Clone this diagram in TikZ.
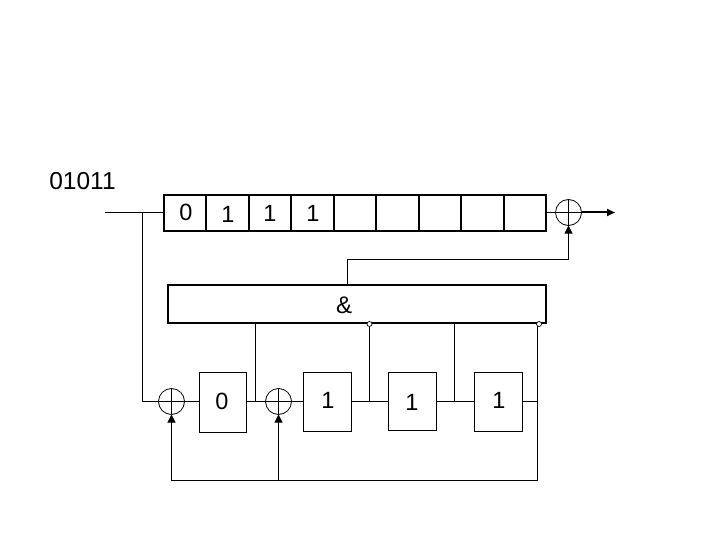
\documentclass[tikz,border=0pt]{standalone}
\usepackage{fontspec}
\setmainfont{Liberation Sans}
\usetikzlibrary{arrows.meta,calc}
\tikzset{
  wire/.style={line width=1pt,draw=black},
  head/.style={-{Triangle[length=8pt,width=8pt]}},
  cellbox/.style={draw=black,line width=2pt,rectangle,minimum width=42.5pt,minimum height=36pt,inner sep=0pt,outer sep=0pt},
  andbox/.style={draw=black,line width=2pt,rectangle,minimum width=378pt,minimum height=38pt,inner sep=0pt,outer sep=0pt},
  regbox/.style={draw=black,line width=1pt,rectangle,minimum width=48pt,minimum height=59pt,inner sep=0pt,outer sep=0pt},
  xorgate/.style={draw=black,line width=.8pt,circle,minimum size=26pt,inner sep=0pt,outer sep=0pt},
  tapdot/.style={draw=black,fill=white,line width=.7pt,circle,minimum size=5pt,inner sep=0pt,outer sep=0pt},
  digit/.style={font=\fontsize{23.5}{25}\selectfont,inner sep=0pt}
}
\begin{document}
\begin{tikzpicture}[x=1pt,y=-1pt]
\useasboundingbox (0,0) rectangle (720,540);
\fill[white] (0,0) rectangle (720,540);
% shift register
\node[cellbox] (c1) at (185,213) {};
\node[cellbox] (c2) at (227.5,213) {};
\node[cellbox] (c3) at (270,213) {};
\node[cellbox] (c4) at (312.5,213) {};
\node[cellbox] (c5) at (355,213) {};
\node[cellbox] (c6) at (397.5,213) {};
\node[cellbox] (c7) at (440,213) {};
\node[cellbox] (c8) at (482.5,213) {};
\node[cellbox] (c9) at (525,213) {};
\node[digit] (t0) at (186,212) {0};
\node[digit] (t1) at (228,214) {1};
\node[digit] (t2) at (270,213) {1};
\node[digit] (t3) at (313,213) {1};
\node[font=\fontsize{24.5}{26}\selectfont,inner sep=0pt] (seq) at (82.5,181.5) {01011};
% AND
\node[andbox] (and) at (357,304) {};
\node[font=\fontsize{24}{26}\selectfont,inner sep=0pt] (amp) at (344,305) {\&};
% gates
\node[xorgate] (xo) at (568.5,212.5) {};
\node[xorgate] (xa) at (171.5,401.5) {};
\node[xorgate] (xb) at (278.5,401.5) {};
\draw[wire,line width=.7pt] (xo.north)--(xo.south) (xo.west)--(xo.east);
\draw[wire,line width=.7pt] (xa.north)--(xa.south) (xa.west)--(xa.east);
\draw[wire,line width=.7pt] (xb.north)--(xb.south) (xb.west)--(xb.east);
% lower register
\node[regbox,minimum width=47pt,minimum height=60pt] (r1) at (223,402.5) {};
\node[regbox] (r2) at (327.5,402) {};
\node[regbox,minimum height=58pt] (r3) at (412.5,401.5) {};
\node[regbox] (r4) at (498.5,402) {};
\node[digit] (d1) at (222,401) {0};
\node[digit] (d2) at (328,400) {1};
\node[digit] (d3) at (412,402) {1};
\node[digit] (d4) at (499,400) {1};
% tap dots
\node[tapdot] (p1) at (369.5,324) {};
\node[tapdot] (p2) at (539,324) {};
% coordinates
\coordinate (in) at (105,212.5);
\coordinate (j0) at (142.5,212.5);
\coordinate (j1) at (142.5,401.5);
\coordinate (t1a) at (255.5,401.5);
\coordinate (t1b) at (255.5,323);
\coordinate (t2a) at (369.5,401.5);
\coordinate (t3a) at (454.5,401.5);
\coordinate (t3b) at (454.5,323);
\coordinate (t4a) at (537.5,401.5);
\coordinate (t4b) at (537.5,326);
\coordinate (fb) at (537.5,480.5);
\coordinate (fa) at (171.5,480.5);
\coordinate (fc) at (278.5,480.5);
\coordinate (up) at (347.5,259.5);
\coordinate (upr) at (568.5,259.5);
\coordinate (upb) at (347.5,285);
\coordinate (out) at (615,212.5);
% connectors
\draw[wire] (in) -- (in -| c1.west);
\draw[wire] (j0) -- (j1) -- (xa.west);
\draw[wire] (xa.east) -- (xa.east -| r1.west);
\draw[wire] (r1.east |- xb.west) -- (xb.west);
\draw[wire] (xb.east) -- (xb.east -| r2.west);
\draw[wire] (r2.east |- t2a) -- (r3.west |- t2a);
\draw[wire] (r3.east |- t3a) -- (r4.west |- t3a);
\draw[wire] (r4.east |- t4a) -- (t4a);
\draw[wire] (t1a) -- (t1b);
\draw[wire] (t2a) -- (p1.south);
\draw[wire] (t3a) -- (t3b);
\draw[wire] (t4b) -- (fb) -- (fa);
\draw[wire,head] (fa) -- (xa.south);
\draw[wire,head] (fc) -- (xb.south);
\draw[wire] (upb) -- (up) -- (upr);
\draw[wire,head] (upr) -- (xo.south);
\draw[wire] (c9.east |- xo.west) -- (xo.west);
\draw[line width=2pt,-{Triangle[length=8pt,width=7pt]}] (xo.east) -- (out);
\end{tikzpicture}
\end{document}
